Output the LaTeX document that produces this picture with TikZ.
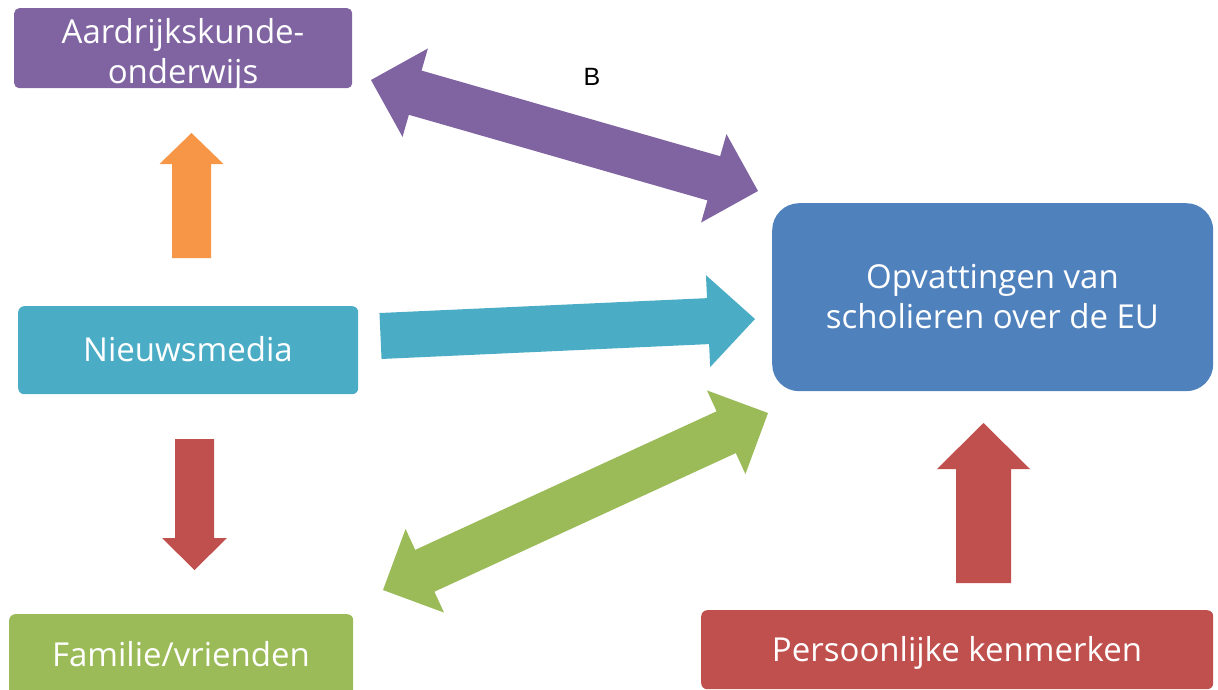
\documentclass[tikz,border=0pt]{standalone}
\usepackage{fontspec}
\setmainfont{Open Sans}
\newfontfamily\arialfont{Liberation Sans}
\usetikzlibrary{calc}
\definecolor{cpurple}{HTML}{8064A2}
\definecolor{cteal}{HTML}{4BACC6}
\definecolor{cgreen}{HTML}{9BBB59}
\definecolor{cred}{HTML}{C0504D}
\definecolor{cblue}{HTML}{4F81BD}
\definecolor{corange}{HTML}{F79646}
% single block arrow: #1 tail, #2 tip, #3 half shaft, #4 half head, #5 head length, #6 colour
\newcommand\blockarrow[6]{%
  \coordinate (#2-base) at ($(#2)!#5!(#1)$);
  \fill[#6] ($(#1)!#3!90:(#2)$) -- ($(#2-base)!#3!-90:(#1)$) -- ($(#2-base)!#4!-90:(#1)$)
    -- (#2) -- ($(#2-base)!#4!90:(#1)$) -- ($(#2-base)!#3!90:(#1)$) -- ($(#1)!#3!-90:(#2)$) -- cycle;}
% double block arrow
\newcommand\dblblockarrow[6]{%
  \coordinate (#1-base) at ($(#1)!#5!(#2)$);
  \coordinate (#2-base) at ($(#2)!#5!(#1)$);
  \fill[#6] (#1) -- ($(#1-base)!#4!90:(#2)$) -- ($(#1-base)!#3!90:(#2)$)
    -- ($(#2-base)!#3!-90:(#1)$) -- ($(#2-base)!#4!-90:(#1)$) -- (#2)
    -- ($(#2-base)!#4!90:(#1)$) -- ($(#2-base)!#3!90:(#1)$)
    -- ($(#1-base)!#3!-90:(#2)$) -- ($(#1-base)!#4!-90:(#2)$) -- cycle;}
\tikzset{
  box/.style={rectangle, rounded corners=6pt, inner sep=0pt, anchor=north west},
  lbl/.style={text=white, font=\fontsize{33}{40}\selectfont, align=center, inner sep=0pt},
}
\begin{document}
\begin{tikzpicture}[x=1pt, y=-1pt]
\useasboundingbox (0,0) rectangle (1218,690);
\clip (0,0) rectangle (1218,690);
% boxes
\node[box, fill=cpurple, rounded corners=5pt, minimum width=338pt, minimum height=80pt] (aard) at (14,8) {};
\node[box, fill=cteal, minimum width=340pt, minimum height=88pt] (nieuws) at (18,306) {};
\node[box, fill=cgreen, minimum width=344pt, minimum height=86pt] (fam) at (9,614) {};
\node[box, fill=cred, minimum width=512pt, minimum height=79pt] (pers) at (701,610) {};
\node[box, fill=cblue, rounded corners=27pt, minimum width=441pt, minimum height=188pt] (opv) at (772,203) {};
% labels
\node[lbl] (t-aard) at (183,55) {Aardrijkskunde-\\onderwijs};
\node[lbl, anchor=base] (t-nieuws) at (188,361) {Nieuwsmedia};
\node[lbl, anchor=base] (t-fam) at (181,666) {Familie/vrienden};
\node[lbl, anchor=base] (t-pers) at (957,661) {Persoonlijke kenmerken};
\node[lbl] (t-opv) at (992.5,296.5) {Opvattingen van\\scholieren over de EU};
\node[anchor=base, inner sep=0pt, font=\arialfont\fontsize{25}{30}\selectfont] (lblB) at (592,86) {B};
% arrow end points
\coordinate (oA) at (191.5,258);  \coordinate (oB) at (191.5,133);
\coordinate (rdA) at (194.5,439); \coordinate (rdB) at (194.5,570);
\coordinate (ruA) at (983.5,583); \coordinate (ruB) at (983.5,423);
\coordinate (tA) at (380.5,336);  \coordinate (tB) at (755,319);
\coordinate (pA) at (371,80);     \coordinate (pB) at (758,191);
\coordinate (gA) at (383,590);    \coordinate (gB) at (768,413);
% arrows
\blockarrow{oA}{oB}{19.5pt}{32pt}{31pt}{corange}
\blockarrow{rdA}{rdB}{19.5pt}{32.5pt}{32pt}{cred}
\blockarrow{ruA}{ruB}{27.5pt}{46.5pt}{46pt}{cred}
\blockarrow{tA}{tB}{23pt}{46pt}{47pt}{cteal}
\dblblockarrow{pA}{pB}{23pt}{46pt}{46pt}{cpurple}
\dblblockarrow{gA}{gB}{23pt}{46pt}{46pt}{cgreen}
\end{tikzpicture}
\end{document}
